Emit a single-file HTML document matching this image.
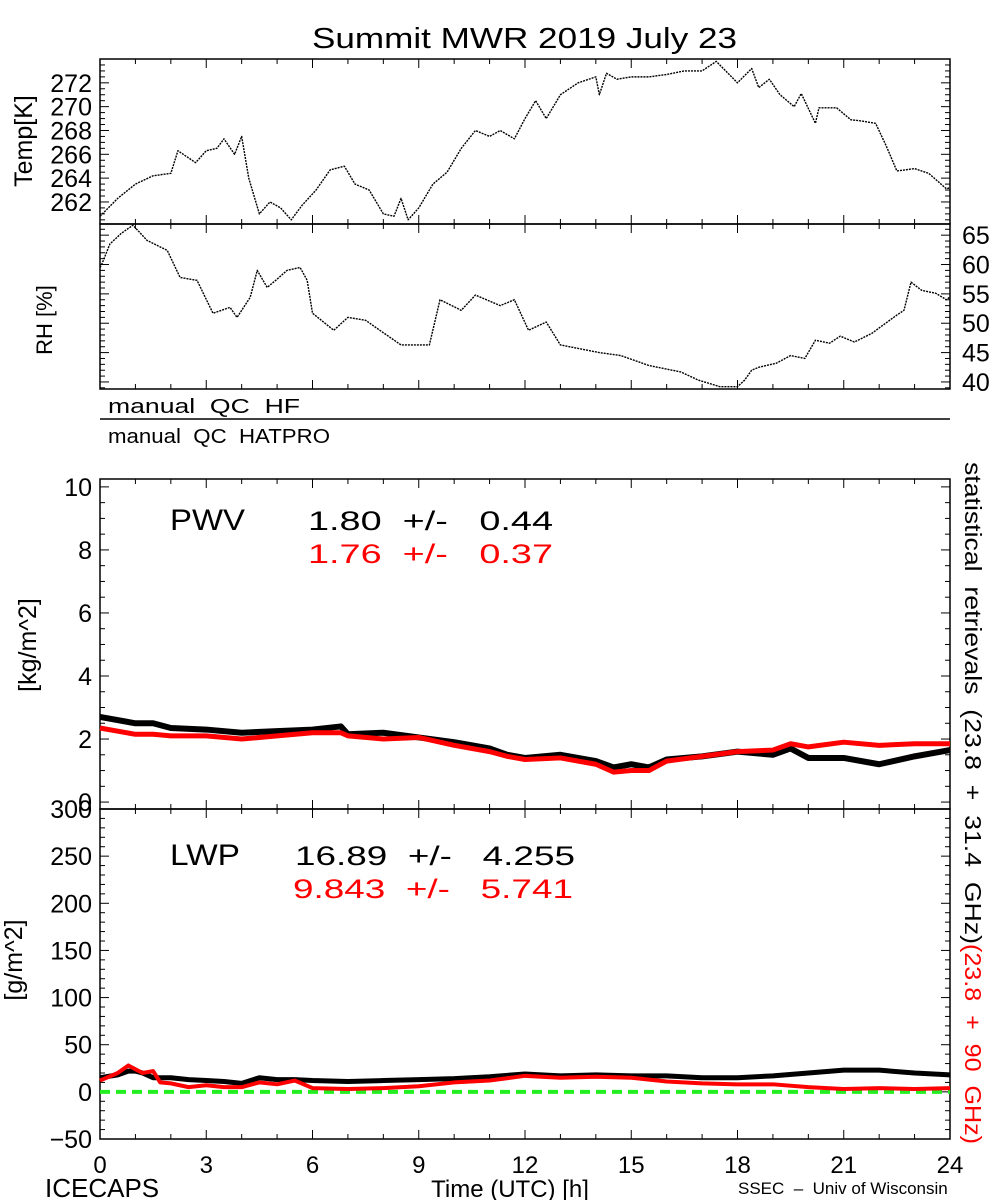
<!DOCTYPE html>
<html><head><meta charset="utf-8"><style>
html,body{margin:0;padding:0;background:#fff;}
svg{display:block;font-family:"Liberation Sans",sans-serif;}
text{white-space:pre;}
</style></head><body>
<svg id="c" width="1000" height="1200" viewBox="0 0 1000 1200" xmlns="http://www.w3.org/2000/svg">
<rect width="1000" height="1200" fill="#fff"/>
<text x="312" y="48" font-size="29" textLength="425" lengthAdjust="spacingAndGlyphs">Summit MWR 2019 July 23</text>
<g id="g"></g>
</svg>
<script>
const tempHours=[0,0.5,1,1.5,2,2.2,2.7,3,3.3,3.5,3.8,4.0,4.2,4.5,4.8,5.1,5.4,5.7,6.1,6.5,6.9,7.2,7.6,8,8.3,8.5,8.7,9,9.4,9.8,10.2,10.6,11,11.3,11.7,12,12.3,12.6,13,13.5,14,14.1,14.3,14.6,15,15.5,16,16.5,17,17.4,18,18.4,18.6,18.9,19.2,19.6,19.8,20.2,20.3,20.8,21.2,21.5,21.9,22.2,22.5,23,23.4,23.9,24];
const tempValues=[260.8,262.3,263.5,264.2,264.4,266.3,265.3,266.3,266.5,267.3,266,267.5,264,261,262,261.5,260.5,261.7,263,264.7,265,263.5,263,261,260.8,262.3,260.5,261.5,263.5,264.5,266.5,268,267.5,268,267.3,269,270.5,269,271,272,272.5,271,272.8,272.3,272.5,272.5,272.7,273,273,273.8,272,273.2,271.6,272.3,271,270,271.1,268.6,269.9,269.9,268.9,268.8,268.6,266.7,264.6,264.8,264.4,263.1,263.2];
const rhHours=[0,0.06,0.28,0.6,0.93,1.33,1.9,2.26,2.74,3.19,3.67,3.87,4.24,4.44,4.72,5.0,5.28,5.65,5.85,6.0,6.6,7.0,7.5,7.9,8.5,9.3,9.6,10.2,10.6,11.3,11.7,12.1,12.6,13,14.1,14.7,15.5,16.4,16.9,17.5,18.0,18.2,18.4,18.6,19.1,19.5,19.9,20.2,20.6,20.9,21.3,21.8,22,22.5,22.7,22.9,23.2,23.6,23.9,24];
const rhValues=[59.5,60.2,63.5,65.3,66.7,64.1,62.4,57.8,57.3,51.7,52.7,51,54.4,59,56.1,57.5,59,59.5,57.3,51.7,48.8,51,50.5,48.8,46.3,46.3,54,52.2,54.8,53,54,48.8,50.2,46.3,45,44.5,42.8,41.7,40.3,39.2,39.2,40.3,42,42.5,43.2,44.5,44,47.1,46.6,47.8,46.8,48.3,49.2,51.4,52.2,57,55.6,55.1,54,54.5];
const pwvHours=[0,1,1.5,2,3,4,5,6,6.8,7,8,9,10,11,11.5,12,13,14,14.5,15,15.5,16,17,18,19,19.5,20,21,22,23,24];
const pwvHF=[2.7,2.5,2.5,2.35,2.3,2.2,2.25,2.3,2.4,2.15,2.2,2.05,1.9,1.7,1.5,1.4,1.5,1.3,1.1,1.2,1.1,1.35,1.45,1.6,1.5,1.7,1.4,1.4,1.2,1.45,1.65];
const pwvHAT=[2.35,2.15,2.15,2.1,2.1,2.0,2.1,2.2,2.2,2.1,2.0,2.05,1.8,1.6,1.45,1.35,1.4,1.2,0.95,1.0,1.0,1.3,1.45,1.6,1.65,1.85,1.75,1.9,1.8,1.85,1.85];
const lwpHours=[0,0.5,0.8,1,1.2,1.5,1.7,2,2.5,3,3.5,4,4.5,5,5.5,6,7,8,9,10,11,12,13,14,15,16,17,18,19,20,21,22,23,24];
const lwpHF=[15,18,22,22,20,15,15,15,13,12,11,9,15,13,13,12,11,12,13,14,16,19,17,18,17,17,15,15,17,20,23,23,20,18];
const lwpHAT=[12,20,28,24,20,22,10,9,5,7,5,5,10,8,12,4,3,4,6,10,12,17,15,16,15,11,9,8,8,5,3,4,3,4];
const xTicks=["0","3","6","9","12","15","18","21","24"];
const tempTicks=["262","264","266","268","270","272"];
const rhTicks=["40","45","50","55","60","65"];
const pwvTicks=["0","2","4","6","8","10"];
const lwpTicks=["-50","0","50","100","150","200","250","300"];

const NS="http://www.w3.org/2000/svg";
const G=document.getElementById('g');
const X0=100,X1=950;
const xs=h=>X0+(X1-X0)*h/24;
function lin(d0,d1,r0,r1){return v=>r0+(v-d0)*(r1-r0)/(d1-d0);}
const yT=lin(260.15,274,224,59), yR=lin(38.8,66.9,389,224), yP=lin(-0.22,10.25,809,479), yL=lin(-50,300,1139,809);
function mk(tag,at,parent){const e=document.createElementNS(NS,tag);for(const k in at)e.setAttribute(k,at[k]);(parent||G).appendChild(e);return e;}
function txt(s,at){const e=mk('text',at);e.textContent=s;return e;}
function frame(name,top,bot){
  const r=mk('rect',{x:X0,y:top,width:X1-X0,height:bot-top,fill:'none',stroke:'#000','stroke-width':1.5});
  
  
  for(let h=0;h<=24;h++){const L=h%3===0?9:5;
    mk('line',{x1:xs(h),x2:xs(h),y1:bot,y2:bot-L,stroke:'#000','stroke-width':1});
    mk('line',{x1:xs(h),x2:xs(h),y1:top,y2:top+L,stroke:'#000','stroke-width':1});}
}
function yticks(ys,d0,d1,step,minor,side,labels){
  for(let v=Math.ceil(d0/minor)*minor;v<=d1;v+=minor){const y=ys(v);const maj=Math.abs(v/step-Math.round(v/step))<1e-6;const L=maj?9:5;
    mk('line',{x1:X0,x2:X0+L,y1:y,y2:y,stroke:'#000','stroke-width':1});
    mk('line',{x1:X1,x2:X1-L,y1:y,y2:y,stroke:'#000','stroke-width':1});}
  labels.forEach(s=>{const v=parseFloat(s);const t=txt(s.replace('-','\u2212'),{x:side==='l'?X0-8:X1+12,y:ys(v)+9,'font-size':25,'text-anchor':side==='l'?'end':'start'});
    
    });
}
function line(name,hs,vs,ys,color,w){
  const p=mk('polyline',{points:hs.map((h,i)=>xs(h)+','+ys(vs[i])).join(' '),fill:'none',stroke:color,'stroke-width':w,'stroke-linejoin':'round','stroke-dasharray':w<2?'2 1':'none'});
  
  
}
// Temp
frame('temp-panel',59,224);
yticks(yT,260.15,274,2,0.5,'l',tempTicks);
line('temp-line',tempHours,tempValues,yT,'#000',1.4);
txt('Temp[K]',{x:0,y:0,'font-size':25,transform:'translate(32,141) rotate(-90)','text-anchor':'middle'});
// RH
frame('rh-panel',224,389);
yticks(yR,38.8,66.9,5,1,'r',rhTicks);
line('rh-line',rhHours,rhValues,yR,'#000',1.4);
txt('RH [%]',{x:0,y:0,'font-size':22,transform:'translate(52,320) rotate(-90)','text-anchor':'middle'});
// QC
txt('manual  QC  HF',{x:108,y:413,'font-size':20,textLength:192,lengthAdjust:'spacingAndGlyphs'});
mk('line',{x1:X0,x2:X1,y1:419,y2:419,stroke:'#000','stroke-width':1.5});
txt('manual  QC  HATPRO',{x:108,y:443,'font-size':20,textLength:222,lengthAdjust:'spacingAndGlyphs'});
// PWV
frame('pwv-panel',479,809);
yticks(yP,-0.22,10.25,2,0.5,'l',pwvTicks);
line('pwv-hf-line',pwvHours,pwvHF,yP,'#000',6);
line('pwv-hatpro-line',pwvHours,pwvHAT,yP,'#f00',5);
txt('[kg/m^2]',{x:0,y:0,'font-size':25,transform:'translate(36,645) rotate(-90)','text-anchor':'middle'});
txt('PWV',{x:170,y:530,'font-size':30,textLength:75,lengthAdjust:'spacingAndGlyphs'});
txt('1.80  +/-   0.44',{x:308,y:530,'font-size':27,textLength:245,lengthAdjust:'spacingAndGlyphs'});
txt('1.76  +/-   0.37',{x:308,y:563,'font-size':27,fill:'#f00',textLength:245,lengthAdjust:'spacingAndGlyphs'});
// LWP
frame('lwp-panel',809,1139);
yticks(yL,-50,300,50,10,'l',lwpTicks);
const zl=mk('line',{x1:X0,x2:X1,y1:yL(0),y2:yL(0),stroke:'#2e2','stroke-width':4,'stroke-dasharray':'10 6'});


line('lwp-hf-line',lwpHours,lwpHF,yL,'#000',5);
line('lwp-hatpro-line',lwpHours,lwpHAT,yL,'#f00',4);
txt('[g/m^2]',{x:0,y:0,'font-size':25,transform:'translate(22,960) rotate(-90)','text-anchor':'middle'});
txt('LWP',{x:170,y:865,'font-size':30,textLength:70,lengthAdjust:'spacingAndGlyphs'});
txt('16.89  +/-   4.255',{x:295,y:865,'font-size':27,textLength:280,lengthAdjust:'spacingAndGlyphs'});
txt('9.843  +/-   5.741',{x:293,y:898,'font-size':27,fill:'#f00',textLength:280,lengthAdjust:'spacingAndGlyphs'});
// x ticks labels
xTicks.forEach(s=>{const t=txt(s,{x:xs(parseFloat(s)),y:1173,'font-size':24,'text-anchor':'middle'});
  
  });
txt('ICECAPS',{x:45,y:1197,'font-size':26});
txt('Time (UTC) [h]',{x:510,y:1197,'font-size':24,'text-anchor':'middle'});
txt('SSEC  \u2013  Univ of Wisconsin',{x:738,y:1194,'font-size':17});
const rt=mk('text',{x:0,y:0,'font-size':23,transform:'translate(965,462) rotate(90)'});


const t1=mk('tspan',{textLength:482,lengthAdjust:'spacingAndGlyphs'},rt);t1.textContent='statistical  retrievals  (23.8  +  31.4  GHz)';
const t2=mk('tspan',{fill:'#f00',textLength:200,lengthAdjust:'spacingAndGlyphs'},rt);t2.textContent='(23.8  +  90  GHz)';
</script>
</body></html>
